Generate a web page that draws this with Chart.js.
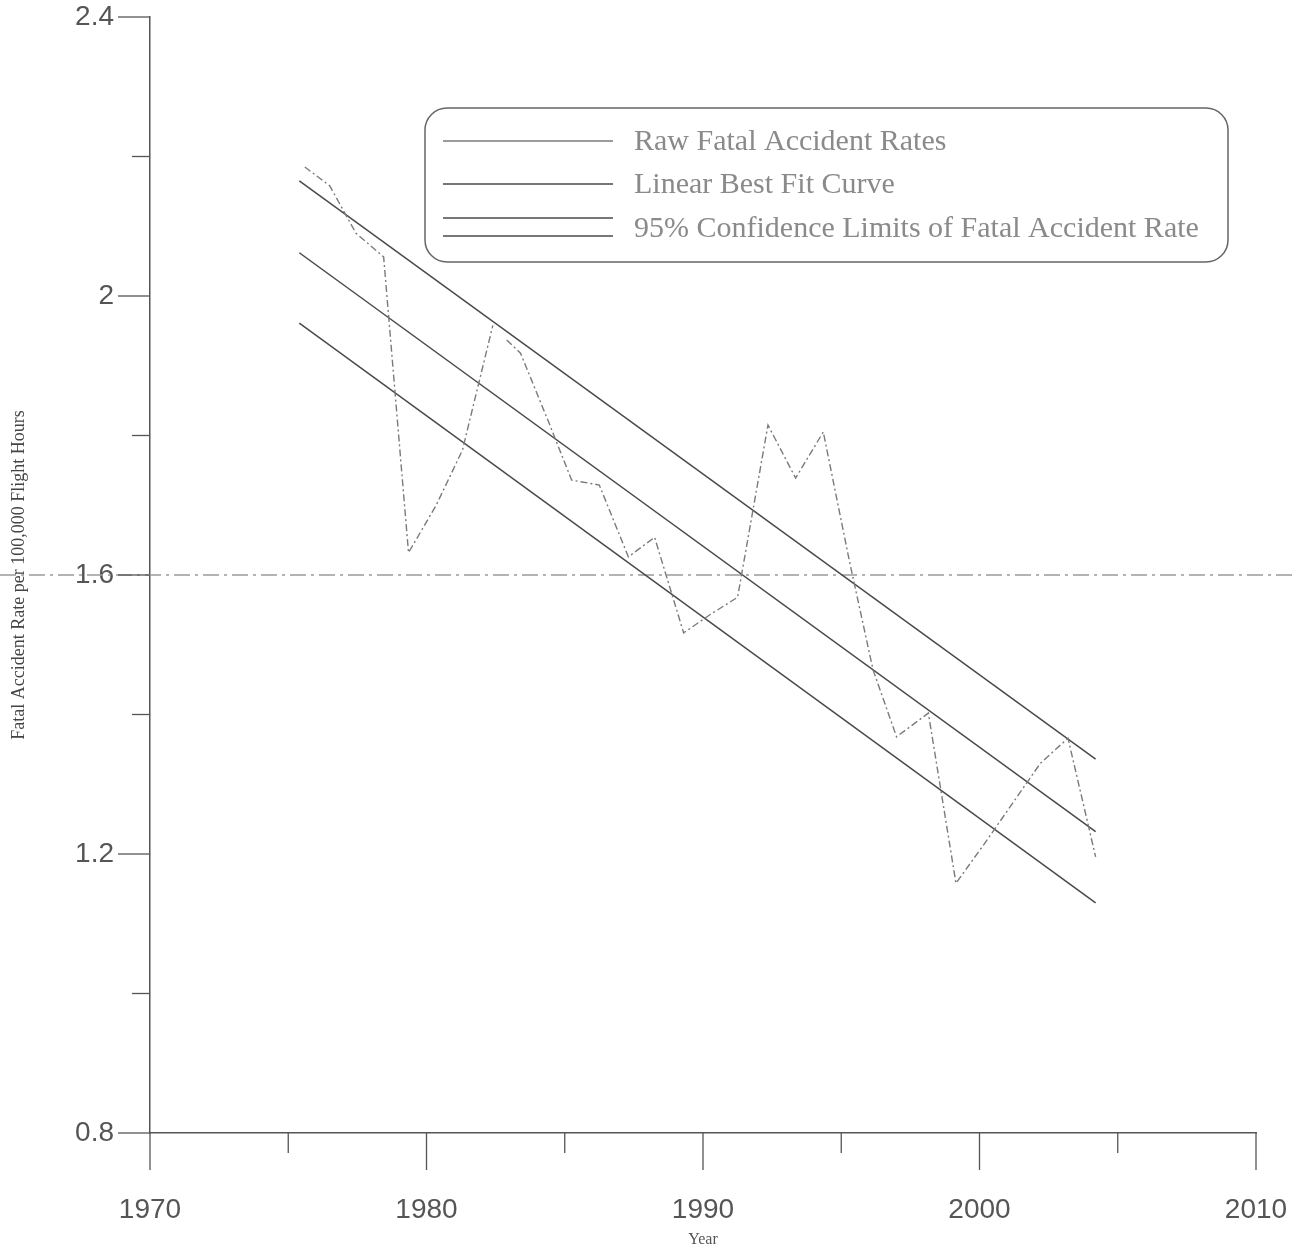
<!DOCTYPE html>
<html>
<head>
<meta charset="utf-8">
<script src="https://cdn.jsdelivr.net/npm/chart.js@4"></script>
<style>
  html, body { margin: 0; padding: 0; background: #fff; }
  #wrap { width: 1303px; height: 1249px; position: relative; }
</style>
</head>
<body>
<div id="wrap"><canvas id="rateChart"></canvas></div>
<script>
// Raw fatal accident rates
const rawYears = [1975.6, 1976.5, 1977.45, 1978.45, 1979.35, 1980.35, 1981.3, 1982.4, 1982.65, 1982.9,
  1983.4, 1984.4, 1985.25, 1986.25, 1987.3, 1988.25, 1989.3, 1990.25, 1991.25, 1992.35,
  1993.35, 1994.35, 1995.3, 1996.15, 1997.0, 1998.15, 1999.15, 2000.2, 2001.2, 2002.2,
  2003.2, 2004.2];
const rawRates = [2.185, 2.158, 2.090, 2.056, 1.632, 1.70, 1.779, 1.958, null, 1.937,
  1.918, 1.821, 1.736, 1.729, 1.626, 1.654, 1.517, 1.543, 1.568, 1.815,
  1.739, 1.805, 1.619, 1.464, 1.368, 1.402, 1.158, 1.216, 1.273, 1.330,
  1.366, 1.196];

// Best fit line and 95% confidence limits (end points)
const fitYears = [1975.4, 2004.2];
const fitRates = [2.062, 1.232];
const upperRates = [2.165, 1.336];
const lowerRates = [1.961, 1.130];

const legendLabels = [
  "Raw Fatal Accident Rates",
  "Linear Best Fit Curve",
  "95% Confidence Limits of Fatal Accident Rate",
];

const xTicks = [1970, 1975, 1980, 1985, 1990, 1995, 2000, 2005, 2010];
const yTicks = [0.8, 1.0, 1.2, 1.4, 1.6, 1.8, 2.0, 2.2, 2.4];
const refLine = 1.6;

const lineGray = "#4a4a4a";
const rawGray = "#7a7a7a";
const textGray = "#555";

function pts(xs, ys) {
  return xs.map((x, i) => ({ x: x, y: ys[i] }));
}

// tick marks, reference line and the boxed legend
const decorPlugin = {
  id: "decor",
  beforeDatasetsDraw(chart) {
    const c = chart.ctx;
    const xs = chart.scales.x;
    const ys = chart.scales.y;
    const area = chart.chartArea;

    // dash-dot line at 1.6
    const yRef = ys.getPixelForValue(refLine);
    c.save();
    c.strokeStyle = "#9a9a9a";
    c.lineWidth = 1.3;
    c.setLineDash([16, 5, 3, 5]);
    c.beginPath();
    c.moveTo(0, yRef);
    c.lineTo(1292, yRef);
    c.stroke();
    c.restore();

    c.save();
    c.strokeStyle = "#555";
    c.lineWidth = 1.3;
    xTicks.forEach((v) => {
      const px = xs.getPixelForValue(v);
      const len = v % 10 === 0 ? 37 : 20;
      c.beginPath();
      c.moveTo(px, area.bottom);
      c.lineTo(px, area.bottom + len);
      c.stroke();
    });
    yTicks.forEach((v) => {
      const py = ys.getPixelForValue(v);
      const len = Math.round(v * 10) % 4 === 0 ? 32 : 18;
      c.beginPath();
      c.moveTo(area.left, py);
      c.lineTo(area.left - len, py);
      c.stroke();
    });
    c.restore();
  },
  afterDraw(chart) {
    const c = chart.ctx;
    c.save();
    // legend box
    c.strokeStyle = "#666";
    c.lineWidth = 1.5;
    c.beginPath();
    c.roundRect(425, 108, 803, 154, 22);
    c.stroke();

    c.lineWidth = 1.4;
    c.strokeStyle = rawGray;
    c.beginPath(); c.moveTo(443, 141); c.lineTo(613, 141); c.stroke();
    c.strokeStyle = lineGray;
    c.beginPath(); c.moveTo(443, 184); c.lineTo(613, 184); c.stroke();
    c.beginPath(); c.moveTo(443, 218); c.lineTo(613, 218); c.stroke();
    c.beginPath(); c.moveTo(443, 236); c.lineTo(613, 236); c.stroke();

    c.fillStyle = "#8a8a8a";
    c.font = "30px 'Liberation Serif', serif";
    c.textBaseline = "middle";
    c.fillText(legendLabels[0], 634, 142);
    c.fillText(legendLabels[1], 634, 185);
    c.fillText(legendLabels[2], 634, 229);
    c.restore();
  },
};

const ctx = document.getElementById("rateChart").getContext("2d");

const rateChart = new Chart(ctx, {
  type: "line",
  data: {
    datasets: [
      {
        label: legendLabels[0],
        data: pts(rawYears, rawRates),
        borderColor: rawGray,
        borderWidth: 1.4,
        borderDash: [7, 3, 2, 3],
        spanGaps: false,
      },
      {
        label: legendLabels[1],
        data: pts(fitYears, fitRates),
        borderColor: lineGray,
        borderWidth: 1.5,
      },
      {
        label: legendLabels[2],
        data: pts(fitYears, upperRates),
        borderColor: lineGray,
        borderWidth: 1.5,
      },
      {
        label: legendLabels[2] + " (lower)",
        data: pts(fitYears, lowerRates),
        borderColor: lineGray,
        borderWidth: 1.5,
      },
    ],
  },
  options: {
    responsive: true,
    maintainAspectRatio: false,
    animation: false,
    layout: { padding: { top: 17, right: 47, left: 0, bottom: 0 } },
    elements: { point: { radius: 0 }, line: { tension: 0, fill: false } },
    plugins: {
      legend: { display: false },
      tooltip: { enabled: false },
    },
    scales: {
      x: {
        type: "linear",
        min: 1970,
        max: 2010,
        afterFit: (s) => {
          s.height = 116;
          s.paddingLeft = 0;
          s.paddingRight = 0;
        },
        grid: { display: false, drawTicks: false },
        border: { display: true, color: "#555", width: 1.5 },
        ticks: {
          stepSize: 5,
          padding: 60,
          maxRotation: 0,
          autoSkip: false,
          color: textGray,
          font: { family: "'Liberation Sans', Arial, sans-serif", size: 28 },
          callback: (v) => (v % 10 === 0 ? String(v) : ""),
        },
        title: {
          display: true,
          text: "Year",
          color: textGray,
          padding: 0,
          font: { family: "'Liberation Serif', serif", size: 16 },
        },
      },
      y: {
        min: 0.8,
        max: 2.4,
        afterFit: (s) => {
          s.width = 150;
          s.paddingTop = 0;
          s.paddingBottom = 0;
        },
        grid: { display: false, drawTicks: false },
        border: { display: true, color: "#555", width: 1.5 },
        ticks: {
          stepSize: 0.2,
          padding: 36,
          autoSkip: false,
          color: textGray,
          font: { family: "'Liberation Sans', Arial, sans-serif", size: 28 },
          callback: (v) => (Math.round(v * 10) % 4 === 0 ? String(Math.round(v * 10) / 10) : ""),
        },
        title: {
          display: true,
          text: "Fatal Accident Rate per 100,000 Flight Hours",
          color: "#444",
          padding: { top: 8, bottom: 0 },
          font: { family: "'Liberation Serif', serif", size: 18 },
        },
      },
    },
  },
  plugins: [decorPlugin],
});
</script>
</body>
</html>
